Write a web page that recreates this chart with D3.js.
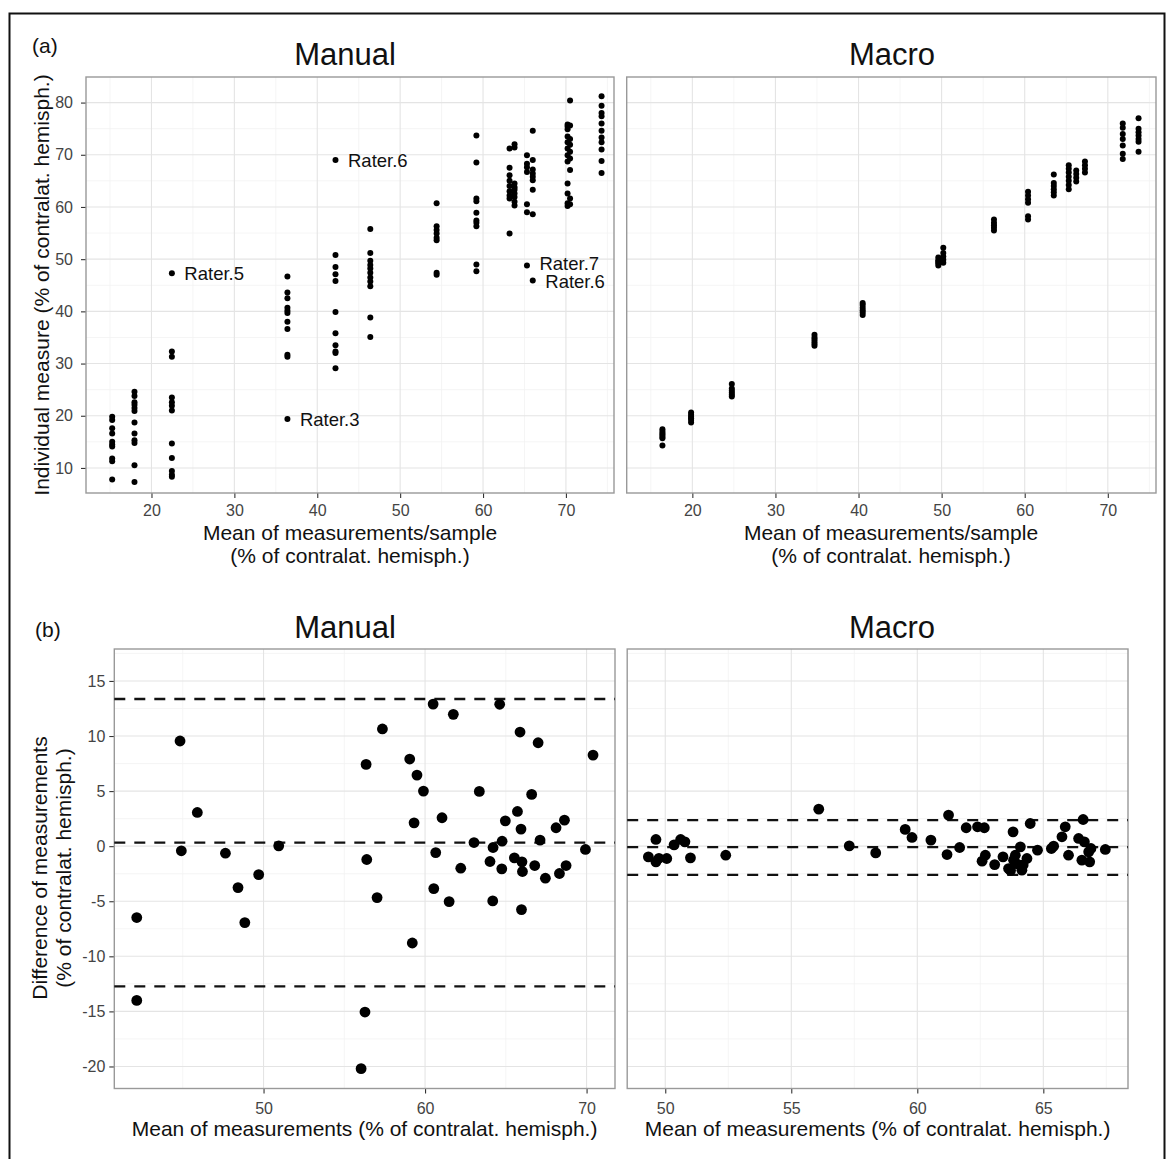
<!DOCTYPE html>
<html>
<head>
<meta charset="utf-8">
<script src="https://cdn.jsdelivr.net/npm/d3@7"></script>
<style>
  body { margin: 0; background: #fff; }
  svg { display: block; font-family: 'Liberation Sans', Arial, sans-serif; }
</style>
</head>
<body>
<script>
// (a) individual measure vs sample mean, one column per sample
const manualSampleMeans = [15.26, 17.95, 22.46, 36.4, 42.2, 46.4, 54.4, 59.2, 63.2, 63.8, 65.3, 66.0, 70.2, 70.5, 74.3]
const manualRaterValues = [
  [19.8, 19.2, 17.6, 16.6, 15.0, 14.5, 14.1, 11.8, 11.3, 7.8],
  [24.6, 23.8, 22.6, 22.1, 21.5, 20.9, 18.7, 16.6, 15.3, 14.8, 10.5, 7.3],
  [47.3, 32.3, 31.3, 23.5, 22.6, 21.9, 21.0, 14.7, 11.9, 9.4, 8.7, 8.3],
  [46.7, 43.6, 42.5, 40.7, 40.1, 39.7, 38.0, 36.6, 31.7, 31.3, 19.4],
  [69.0, 50.8, 48.5, 47.1, 45.8, 39.9, 35.8, 33.5, 32.3, 32.0, 29.1],
  [55.8, 51.2, 49.7, 48.9, 48.2, 47.4, 46.5, 45.7, 44.8, 38.8, 35.1],
  [60.7, 56.3, 55.6, 54.9, 54.1, 53.6, 47.4, 47.0],
  [73.7, 68.5, 61.6, 61.1, 58.9, 57.4, 57.0, 56.3, 49.0, 47.7],
  [71.2, 67.5, 66.1, 65.0, 64.0, 63.0, 62.2, 61.6, 54.9],
  [72.0, 71.4, 64.5, 63.8, 63.3, 62.6, 61.9, 61.0, 60.3],
  [69.9, 68.3, 67.6, 66.7, 60.5, 59.0, 48.8],
  [74.6, 69.0, 67.2, 66.4, 65.8, 65.1, 63.3, 58.6, 45.9],
  [75.8, 75.4, 74.9, 73.5, 72.4, 71.2, 69.9, 68.7, 64.5, 62.6, 60.7, 60.2],
  [80.4, 75.6, 73.0, 71.9, 70.6, 69.3, 67.1, 61.6, 60.5],
  [81.2, 79.4, 78.0, 77.4, 76.0, 74.6, 73.3, 72.4, 71.0, 68.8, 66.5]
]

const raterLabelMean = [22.46, 36.4, 42.2, 65.3, 66.0]
const raterLabelValue = [47.3, 19.4, 69.0, 48.8, 45.9]
const raterLabelText = ['Rater.5', 'Rater.3', 'Rater.6', 'Rater.7', 'Rater.6']

const macroSampleMeans = [16.4, 19.85, 24.75, 34.7, 40.5, 49.6, 50.2, 56.3, 60.4, 63.5, 65.3, 66.2, 67.25, 71.8, 73.7]
const macroRaterValues = [
  [17.4, 17.0, 16.6, 16.3, 16.0, 15.7, 14.3],
  [20.6, 20.2, 19.8, 19.5, 19.2, 18.7],
  [26.1, 25.2, 24.8, 24.4, 24.0, 23.7],
  [35.5, 35.0, 34.6, 34.2, 33.8, 33.4],
  [41.6, 41.2, 40.7, 40.2, 39.8, 39.3],
  [50.3, 49.8, 49.5, 49.2, 48.8],
  [52.2, 51.2, 50.5, 49.9, 49.3],
  [57.6, 57.0, 56.5, 56.0, 55.5],
  [62.9, 62.2, 61.5, 60.8, 58.2, 57.6],
  [66.2, 64.6, 64.0, 63.4, 62.8, 62.2],
  [68.0, 67.3, 66.6, 65.8, 65.0, 64.2, 63.4],
  [67.0, 66.3, 65.6, 64.9],
  [68.7, 68.0, 67.3, 66.6],
  [76.0, 75.2, 74.0, 73.0, 71.8, 70.2, 69.2],
  [77.0, 75.0, 74.3, 73.7, 73.0, 72.5, 70.6]
]

// (b) Bland-Altman: mean vs difference of two measurements
const baManualMean = [42.15, 42.15, 44.83, 44.91, 45.9, 47.64, 48.42, 48.84, 49.7, 50.94,
  56.35, 57.36, 56.39, 57.03, 59.21, 56.28, 56.04, 59.05, 59.5, 59.9, 59.32,
  60.5, 61.75, 61.05, 60.66, 60.54, 61.49, 62.21, 63.03, 63.36, 64.02, 64.21, 64.19,
  64.62, 64.77, 64.75, 64.97, 65.72, 65.88, 65.94, 65.53, 66.0, 66.03, 65.97,
  66.6, 67.0, 66.79, 67.12, 67.45, 68.11, 68.63, 68.32, 68.73, 69.93, 70.4]
const baManualDiff = [-6.48, -14.0, 9.55, -0.42, 3.06, -0.64, -3.76, -6.94, -2.58, 0.03,
  7.42, 10.64, -1.21, -4.67, -8.79, -15.06, -20.2, 7.91, 6.45, 5.0, 2.12,
  12.9, 11.97, 2.58, -0.58, -3.85, -5.03, -2.0, 0.33, 4.97, -1.39, -0.12, -4.97,
  12.88, 0.45, -2.06, 2.3, 3.15, 10.36, 1.55, -1.06, -1.42, -2.3, -5.76,
  4.7, 9.39, -1.76, 0.55, -2.91, 1.67, 2.36, -2.48, -1.76, -0.3, 8.27]
const baManualLimits = [13.36, 0.33, -12.73]

const baMacroMean = [49.33, 49.63, 49.63, 49.75, 50.06, 50.35, 50.61, 50.78, 51.0, 52.4,
  56.09, 57.3, 58.35, 59.52, 59.79, 60.54, 61.24, 61.18, 61.68, 61.94, 62.39, 62.66,
  62.7, 62.57, 63.07, 63.4, 63.8, 63.62, 63.82, 63.89, 64.09, 64.15, 64.35, 64.48,
  64.77, 65.32, 65.41, 65.74, 65.87, 66.0, 66.4, 66.58, 66.63, 66.53, 66.8, 66.84,
  66.89, 67.46, 63.7, 63.95, 64.2]
const baMacroDiff = [-0.97, 0.61, -1.42, -1.1, -1.12, 0.12, 0.61, 0.39, -1.06, -0.82,
  3.36, 0.03, -0.61, 1.52, 0.79, 0.55, 2.82, -0.76, -0.12, 1.67, 1.76, 1.67,
  -0.82, -1.36, -1.67, -0.97, 1.3, -2.03, -1.27, -0.82, -0.06, -2.18, -1.12, 2.06,
  -0.36, -0.21, 0.0, 0.85, 1.76, -0.82, 0.7, 2.42, 0.39, -1.27, -0.52, -1.42,
  -0.21, -0.3, -2.2, -1.6, -1.7]
const baMacroLimits = [2.36, -0.09, -2.6]

const W = 1168, H = 1159

const svg = d3.select('body').append('svg')
  .attr('width', W)
  .attr('height', H)

svg.append('rect')
  .attr('width', W).attr('height', H)
  .attr('fill', '#fff')

// outer figure frame
svg.append('rect')
  .attr('x', 9.5).attr('y', 13.5)
  .attr('width', 1155).attr('height', 1160)
  .attr('fill', 'none')
  .attr('stroke', '#111')
  .attr('stroke-width', 2)

function panel(p) {
  let x = d3.scaleLinear().domain(p.xDomain).range([p.left, p.right])
  let y = d3.scaleLinear().domain(p.yDomain).range([p.bottom, p.top])
  let g = svg.append('g')

  let grid = g.append('g')
  grid.selectAll('.xminor').data(p.xMinor).enter().append('line')
    .attr('x1', d => x(d)).attr('x2', d => x(d))
    .attr('y1', p.top).attr('y2', p.bottom)
    .attr('stroke', '#f2f2f2').attr('stroke-width', 0.8)
  grid.selectAll('.yminor').data(p.yMinor).enter().append('line')
    .attr('x1', p.left).attr('x2', p.right)
    .attr('y1', d => y(d)).attr('y2', d => y(d))
    .attr('stroke', '#f2f2f2').attr('stroke-width', 0.8)
  grid.selectAll('.xmajor').data(p.xTicks).enter().append('line')
    .attr('x1', d => x(d)).attr('x2', d => x(d))
    .attr('y1', p.top).attr('y2', p.bottom)
    .attr('stroke', '#e4e4e4').attr('stroke-width', 1.1)
  grid.selectAll('.ymajor').data(p.yTicks).enter().append('line')
    .attr('x1', p.left).attr('x2', p.right)
    .attr('y1', d => y(d)).attr('y2', d => y(d))
    .attr('stroke', '#e4e4e4').attr('stroke-width', 1.1)

  // plain hyphen for negatives, like the original figure
  let fmt = d => String(d)

  let xAxis = g.append('g')
    .attr('transform', `translate(0,${p.bottom})`)
    .call(d3.axisBottom(x).tickValues(p.xTicks).tickFormat(fmt).tickSize(5).tickPadding(p.xPad))
  styleAxis(xAxis)

  if (p.showY) {
    let yAxis = g.append('g')
      .attr('transform', `translate(${p.left},0)`)
      .call(d3.axisLeft(y).tickValues(p.yTicks).tickFormat(fmt).tickSize(5).tickPadding(p.yPad))
    styleAxis(yAxis)
  }

  g.append('rect')
    .attr('x', p.left).attr('y', p.top)
    .attr('width', p.right - p.left).attr('height', p.bottom - p.top)
    .attr('fill', 'none')
    .attr('stroke', '#999')
    .attr('stroke-width', 1.4)

  return { x, y, g }
}

function styleAxis(axis) {
  axis.select('.domain').remove()
  axis.selectAll('line').attr('stroke', '#333').attr('stroke-width', 1.1)
  axis.selectAll('text')
    .attr('fill', '#444')
    .style('font-size', '16px')
    .style('font-family', "'Liberation Sans', Arial, sans-serif")
}

function text(str, x, y, size, opts = {}) {
  return svg.append('text')
    .attr('x', x).attr('y', y)
    .attr('text-anchor', opts.anchor || 'middle')
    .attr('transform', opts.rotate ? `rotate(-90,${x},${y})` : null)
    .style('font-size', size + 'px')
    .attr('fill', '#111')
    .text(str)
}

// flatten a column layout into points
function columns(means, values) {
  return means.flatMap((m, i) => values[i].map(v => ({ m, v })))
}

// ---- (a) ----
const aCommon = {
  top: 77, bottom: 493,
  xDomain: [12.1, 75.8], yDomain: [5.2, 84.9],
  xTicks: [20, 30, 40, 50, 60, 70], xMinor: d3.range(15, 80, 10),
  yTicks: [10, 20, 30, 40, 50, 60, 70, 80], yMinor: d3.range(15, 80, 10),
  xPad: 7, yPad: 8
}
const aManual = panel({ ...aCommon, left: 86, right: 614, showY: true })
const aMacro = panel({ ...aCommon, left: 626.7, right: 1156, showY: false })

aManual.g.append('g').selectAll('circle')
  .data(columns(manualSampleMeans, manualRaterValues))
  .enter().append('circle')
  .attr('cx', d => aManual.x(d.m))
  .attr('cy', d => aManual.y(d.v))
  .attr('r', 3)
  .attr('fill', '#000')

// the two labels at the right sit very close, as in the original; nudge them apart a touch
const labelNudge = [0, 0, 0, -2, 1]
aManual.g.append('g').selectAll('text')
  .data(raterLabelText)
  .enter().append('text')
  .attr('x', (d, i) => aManual.x(raterLabelMean[i]) + 12.5)
  .attr('y', (d, i) => aManual.y(raterLabelValue[i]) + labelNudge[i])
  .attr('dy', '0.36em')
  .style('font-size', '18.5px')
  .attr('fill', '#111')
  .text(d => d)

aMacro.g.append('g').selectAll('circle')
  .data(columns(macroSampleMeans, macroRaterValues))
  .enter().append('circle')
  .attr('cx', d => aMacro.x(d.m))
  .attr('cy', d => aMacro.y(d.v))
  .attr('r', 3)
  .attr('fill', '#000')

text('(a)', 32, 52.5, 21, { anchor: 'start' })
text('Manual', 345, 65, 31)
text('Macro', 892, 65, 31)
text('Individual measure (% of contralat. hemisph.)', 49, 285, 21, { rotate: true })
text('Mean of measurements/sample', 350, 540, 21)
text('(% of contralat. hemisph.)', 350, 563, 21)
text('Mean of measurements/sample', 891, 540, 21)
text('(% of contralat. hemisph.)', 891, 563, 21)

// ---- (b) ----
const bCommon = {
  top: 649, bottom: 1088.5,
  yDomain: [-22.0, 17.9],
  yTicks: [-20, -15, -10, -5, 0, 5, 10, 15], yMinor: d3.range(-17.5, 18, 5),
  xPad: 9, yPad: 4
}
const bManual = panel({ ...bCommon, left: 114.3, right: 615, xDomain: [40.76, 71.76],
  xTicks: [50, 60, 70], xMinor: [45, 55, 65], showY: true })
const bMacro = panel({ ...bCommon, left: 627.2, right: 1128, xDomain: [48.49, 68.36],
  xTicks: [50, 55, 60, 65], xMinor: [52.5, 57.5, 62.5, 67.5], showY: false })

function blandAltman(pn, means, diffs, limits) {
  pn.g.append('g').selectAll('line')
    .data(limits)
    .enter().append('line')
    .attr('x1', pn.x.range()[0]).attr('x2', pn.x.range()[1])
    .attr('y1', d => pn.y(d)).attr('y2', d => pn.y(d))
    .attr('stroke', '#111')
    .attr('stroke-width', 2.3)
    .attr('stroke-dasharray', '11,9')

  pn.g.append('g').selectAll('circle')
    .data(means)
    .enter().append('circle')
    .attr('cx', d => pn.x(d))
    .attr('cy', (d, i) => pn.y(diffs[i]))
    .attr('r', 5.4)
    .attr('fill', '#000')
}

blandAltman(bManual, baManualMean, baManualDiff, baManualLimits)
blandAltman(bMacro, baMacroMean, baMacroDiff, baMacroLimits)

text('(b)', 35, 637, 21, { anchor: 'start' })
text('Manual', 345, 638, 31)
text('Macro', 892, 638, 31)
text('Difference of measurements', 47, 868, 21, { rotate: true })
text('(% of contralat. hemisph.)', 71, 868, 21, { rotate: true })
text('Mean of measurements (% of contralat. hemisph.)', 364.6, 1136, 21)
text('Mean of measurements (% of contralat. hemisph.)', 877.6, 1136, 21)
</script>
</body>
</html>
